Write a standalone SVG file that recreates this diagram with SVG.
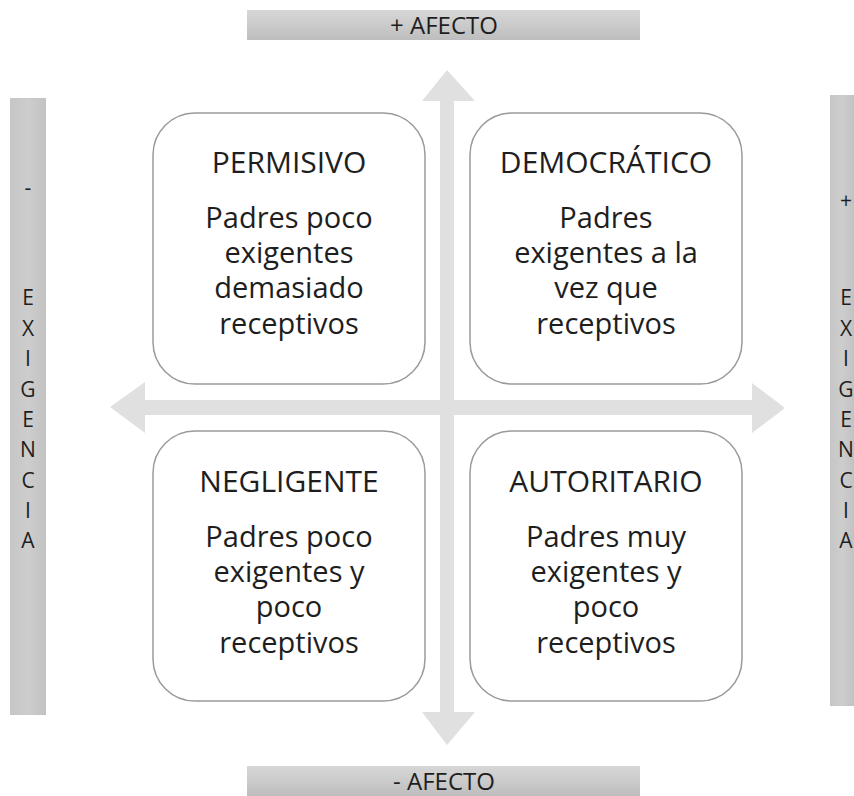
<svg xmlns="http://www.w3.org/2000/svg" width="854" height="796" viewBox="0 0 854 796">
  <defs>
    <linearGradient id="gh" x1="0" y1="0" x2="0" y2="1">
      <stop offset="0" stop-color="#d6d6d6"/>
      <stop offset="0.5" stop-color="#cbcbcb"/>
      <stop offset="1" stop-color="#bdbdbd"/>
    </linearGradient>
    <linearGradient id="gv" x1="0" y1="0" x2="1" y2="0">
      <stop offset="0" stop-color="#c6c6c6"/>
      <stop offset="0.5" stop-color="#cdcdcd"/>
      <stop offset="1" stop-color="#c2c2c2"/>
    </linearGradient>
    <style>
      .box { fill: #ffffff; stroke: #9a9a9a; stroke-width: 1.5; }
      .t { font-family: "Open Sans", "Liberation Sans", sans-serif; fill: #1e1e1e; text-anchor: middle; }
      .title { font-size: 30px; }
      .body { font-size: 29px; }
      .bar { font-size: 24px; }
      .vl { font-size: 21px; }
      .arrow { fill: #e0e0e0; }
    </style>
  </defs>
  <rect width="854" height="796" fill="#ffffff"/>

  <g id="connectors">
    <polygon class="arrow" points="447,70 475,101 454,101 454,712 475,712 447,745 422,712 440,712 440,101 422,101"/>
    <polygon class="arrow" points="110,407 145,382 145,400 752,400 752,383 785,408 752,433 752,415 145,415 145,433"/>
  </g>

  <g id="bar-top">
    <rect x="247" y="10" width="393" height="30" fill="url(#gh)"/>
    <text class="t bar" x="444" y="34">+ AFECTO</text>
  </g>
  <g id="bar-bottom">
    <rect x="247" y="766" width="393" height="30" fill="url(#gh)"/>
    <text class="t bar" x="444" y="790">- AFECTO</text>
  </g>
  <g id="bar-left">
    <rect x="10" y="98" width="36" height="617" fill="url(#gv)"/>
    <text class="t vl" x="28" y="195">-</text>
    <text class="t vl" x="28" y="305">E</text>
    <text class="t vl" x="28" y="336">X</text>
    <text class="t vl" x="28" y="366">I</text>
    <text class="t vl" x="28" y="397">G</text>
    <text class="t vl" x="28" y="427">E</text>
    <text class="t vl" x="28" y="457">N</text>
    <text class="t vl" x="28" y="488">C</text>
    <text class="t vl" x="28" y="518">I</text>
    <text class="t vl" x="28" y="548">A</text>
  </g>
  <g id="bar-right">
    <rect x="830" y="95" width="24" height="611" fill="url(#gv)"/>
    <text class="t vl" x="846" y="208">+</text>
    <text class="t vl" x="846" y="305">E</text>
    <text class="t vl" x="846" y="336">X</text>
    <text class="t vl" x="846" y="366">I</text>
    <text class="t vl" x="846" y="397">G</text>
    <text class="t vl" x="846" y="427">E</text>
    <text class="t vl" x="846" y="457">N</text>
    <text class="t vl" x="846" y="488">C</text>
    <text class="t vl" x="846" y="518">I</text>
    <text class="t vl" x="846" y="548">A</text>
  </g>

  <g id="permisivo">
    <rect class="box" x="153" y="113" width="272" height="271" rx="42"/>
    <text class="t title" x="289" y="173">PERMISIVO</text>
    <text class="t body" x="289" y="228">Padres poco</text>
    <text class="t body" x="289" y="263">exigentes</text>
    <text class="t body" x="289" y="298">demasiado</text>
    <text class="t body" x="289" y="334">receptivos</text>
  </g>
  <g id="democratico">
    <rect class="box" x="470" y="113" width="272" height="271" rx="42"/>
    <text class="t title" x="606" y="173">DEMOCRÁTICO</text>
    <text class="t body" x="606" y="228">Padres</text>
    <text class="t body" x="606" y="263">exigentes a la</text>
    <text class="t body" x="606" y="298">vez que</text>
    <text class="t body" x="606" y="334">receptivos</text>
  </g>
  <g id="negligente">
    <rect class="box" x="153" y="431" width="272" height="270" rx="42"/>
    <text class="t title" x="289" y="492">NEGLIGENTE</text>
    <text class="t body" x="289" y="547">Padres poco</text>
    <text class="t body" x="289" y="582">exigentes y</text>
    <text class="t body" x="289" y="617">poco</text>
    <text class="t body" x="289" y="653">receptivos</text>
  </g>
  <g id="autoritario">
    <rect class="box" x="470" y="431" width="272" height="270" rx="42"/>
    <text class="t title" x="606" y="492">AUTORITARIO</text>
    <text class="t body" x="606" y="547">Padres muy</text>
    <text class="t body" x="606" y="582">exigentes y</text>
    <text class="t body" x="606" y="617">poco</text>
    <text class="t body" x="606" y="653">receptivos</text>
  </g>
</svg>
